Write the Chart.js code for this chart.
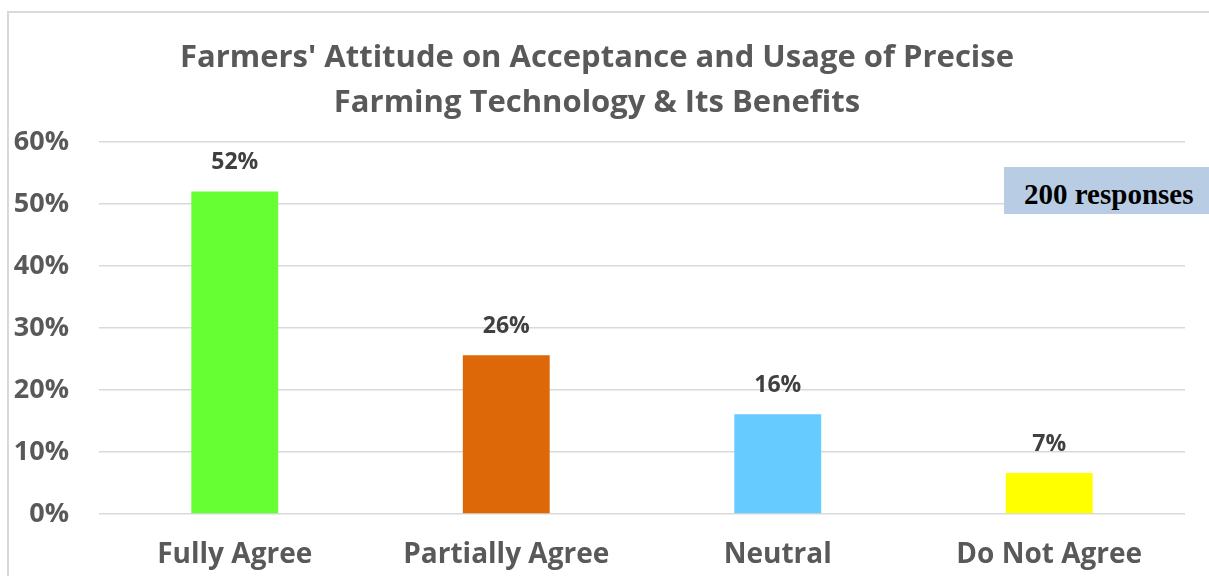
<!DOCTYPE html>
<html>
<head>
<meta charset="utf-8">
<script src="https://cdn.jsdelivr.net/npm/chart.js@4/dist/chart.umd.min.js"></script>
<style>
    body { margin: 0; background: #fff; width: 1209px; height: 576px; overflow: hidden; position: relative; }
    #frame { position: absolute; left: 7px; top: 11px; width: 1210px; height: 580px; border-left: 2px solid #d9d9d9; border-top: 2px solid #d9d9d9; }
    #wrap { position: absolute; left: 9px; top: 13px; width: 1200px; height: 563px; }
    #note { position: absolute; left: 1004px; top: 167px; width: 220px; height: 47px; background: #b8cce4;
            font-family: "Liberation Serif", "Times New Roman", serif; font-weight: bold; font-size: 29px; color: #000;
            line-height: 54px; padding-left: 20px; box-sizing: border-box; overflow: hidden; white-space: nowrap; }
</style>
</head>
<body>
<div id="frame"></div>
<div id="wrap"><canvas id="chart"></canvas></div>
<div id="note">200 responses</div>
<script>
// Chart data
const categories = ['Fully Agree', 'Partially Agree', 'Neutral', 'Do Not Agree'];
const shares = [52, 25.6, 16.1, 6.6];
const barColors = ['#66ff33', '#dd6808', '#66ccff', '#ffff00'];
const yTicks = [0, 10, 20, 30, 40, 50, 60];
const titleLines = ["Farmers' Attitude on Acceptance and Usage of Precise", 'Farming Technology & Its Benefits'];

const sans = '"Open Sans", sans-serif';

// value labels above bars
const barLabels = {
    id: 'barLabels',
    afterDatasetsDraw(chart) {
        const ctx = chart.ctx;
        const meta = chart.getDatasetMeta(0);
        ctx.save();
        ctx.font = 'bold 23px ' + sans;
        ctx.fillStyle = '#404040';
        ctx.textAlign = 'center';
        ctx.textBaseline = 'middle';
        meta.data.forEach((bar, i) => {
            ctx.fillText(Math.round(shares[i]) + '%', bar.x, bar.y - 29);
        });
        ctx.restore();
    }
};

const ctx = document.getElementById('chart').getContext('2d');
new Chart(ctx, {
    type: 'bar',
    data: {
        labels: categories,
        datasets: [{
            data: shares,
            backgroundColor: barColors,
            categoryPercentage: 1,
            barPercentage: 0.32
        }]
    },
    options: {
        responsive: true,
        maintainAspectRatio: false,
        animation: false,
        layout: { padding: { left: 0, right: 24, top: 0, bottom: 0 } },
        plugins: {
            legend: { display: false },
            tooltip: { enabled: false },
            title: {
                display: true,
                text: titleLines,
                color: '#595959',
                font: { family: sans, size: 31, weight: 'bold', lineHeight: 1.45 },
                padding: { top: 23, bottom: 16 }
            }
        },
        scales: {
            x: {
                afterFit(scale) { scale.height = 62; },
                grid: { display: false, drawTicks: false },
                border: { display: false },
                ticks: {
                    color: '#595959',
                    font: { family: sans, size: 28, weight: 'bold' },
                    padding: 24
                }
            },
            y: {
                min: 0,
                max: 60,
                afterFit(scale) { scale.width = 90; },
                afterBuildTicks(scale) { scale.ticks = yTicks.map(v => ({ value: v })); },
                grid: { color: '#d9d9d9', lineWidth: 1.5, drawTicks: false },
                border: { display: false },
                ticks: {
                    color: '#595959',
                    font: { family: sans, size: 27, weight: 'bold' },
                    padding: 30,
                    callback: v => v + '%'
                }
            }
        }
    },
    plugins: [barLabels]
});
</script>
</body>
</html>
